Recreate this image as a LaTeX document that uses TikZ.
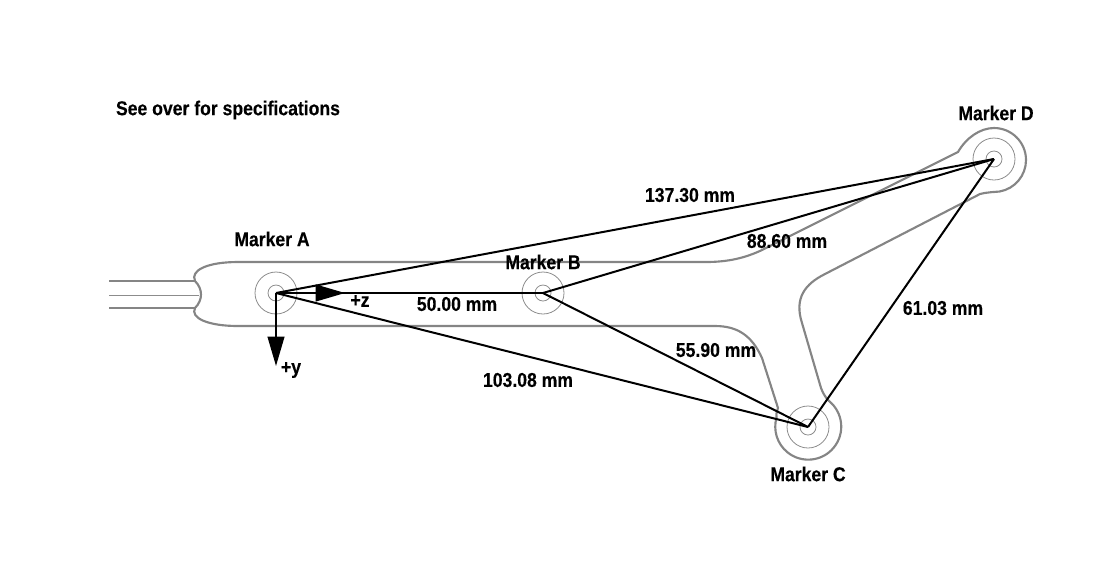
\documentclass[tikz,border=0pt]{standalone}
\usepackage{fontspec}
\setmainfont[BoldFeatures={FakeStretch=0.88,FakeBold=0.25}]{Liberation Sans}
\usetikzlibrary{arrows.meta}
\definecolor{frameGray}{HTML}{858585}
\definecolor{ringGray}{HTML}{8C8C8C}

\begin{document}
\begin{tikzpicture}[x=0.75pt,y=-0.75pt,
    font=\fontsize{15}{17}\selectfont\bfseries,
    frameline/.style={draw=frameGray,line width=1.6pt},
    ring/.style={draw=ringGray,line width=0.6pt,circle,inner sep=0pt},
    outerring/.style={ring,minimum size=31.5pt},
    innerring/.style={ring,minimum size=12pt},
    span/.style={draw=black,line width=1.5pt},
    axis/.style={span,-{Triangle[length=22pt,width=12.5pt]}}]
    \useasboundingbox (0,0) rectangle (1112,562);
    % frame outline
    \draw[frameline] (195,281) .. controls (190,270) and (208,262) .. (238,262)
      -- (706,262) .. controls (728,262) and (745,258) .. (762,250)
      -- (958,152) .. controls (966,138) and (980,128) .. (994,128)
      arc[start angle=-90,end angle=80,radius=32]
      .. controls (995,192) and (988,192) .. (980,194)
      -- (825,274) .. controls (805,284) and (794,298) .. (802,323)
      -- (821,388) .. controls (823,393) and (825,397) .. (829,401)
      arc[start angle=-51,end angle=196,radius=33]
      .. controls (776,413) and (777,411) .. (778,408)
      -- (762,358) .. controls (752,336) and (738,326) .. (715,326)
      -- (238,326) .. controls (208,326) and (190,318) .. (195,308)
      .. controls (203,300) and (203,289) .. (195,281);
    \draw[frameline] (109,281) -- (195,281);
    \draw[frameline] (109,308) -- (195,308);
    \draw[draw=ringGray,line width=0.6pt] (109,295) -- (199,295);
    % markers
    \foreach \name/\px/\py in {A/276/293,B/543/293,C/808/427,D/994/159} {
      \node[outerring] (outer\name) at (\px,\py) {};
      \node[innerring] (marker\name) at (\px,\py) {};
    }
    \coordinate (zTip) at (345,293);
    \coordinate (yTip) at (276,366);
    % distances
    \draw[span] (markerA.center) -- (markerB.center);
    \draw[span] (markerA.center) -- (markerC.center);
    \draw[span] (markerA.center) -- (markerD.center);
    \draw[span] (markerB.center) -- (markerC.center);
    \draw[span] (markerB.center) -- (markerD.center);
    \draw[span] (markerC.center) -- (markerD.center);
    \draw[axis] (markerA.center) -- (zTip);
    \draw[axis] (markerA.center) -- (yTip);
    % labels
    \node (note) at (228,110) {See over for specifications};
    \node (labelA) at (272,239) {Marker A};
    \node (labelB) at (543,262) {Marker B};
    \node (labelC) at (808,474) {Marker C};
    \node (labelD) at (996,113) {Marker D};
    \node (labelZ) at (360,301) {+z};
    \node (labelY) at (291,370) {+y};
    \node (distAB) at (457,304) {50.00 mm};
    \node (distAC) at (528,380) {103.08 mm};
    \node (distAD) at (690,195) {137.30 mm};
    \node (distBC) at (716,350) {55.90 mm};
    \node (distBD) at (787,241) {88.60 mm};
    \node (distCD) at (943,308) {61.03 mm};
\end{tikzpicture}
\end{document}
